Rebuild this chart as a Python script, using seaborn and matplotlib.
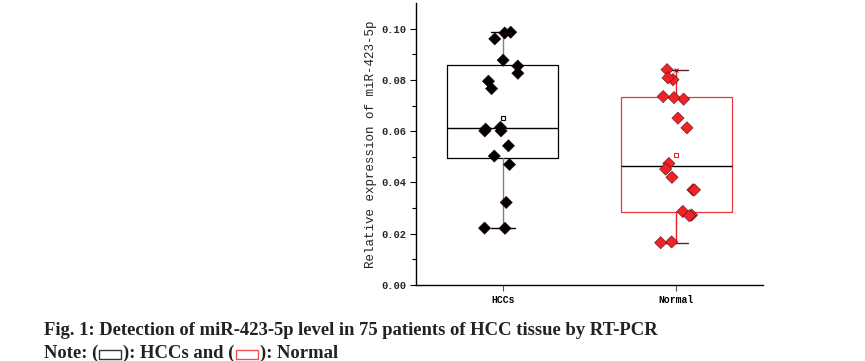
import matplotlib
matplotlib.use("Agg")
import matplotlib.pyplot as plt
from matplotlib.patches import Rectangle
import numpy as np
import pandas as pd
import seaborn as sns

groups = ["HCCs", "Normal"]
hcc_values = [0.0983, 0.0986, 0.0960, 0.0877, 0.0854, 0.0826, 0.0795, 0.0766,
              0.0608, 0.0615, 0.0601, 0.0601, 0.0543, 0.0503, 0.0470, 0.0322,
              0.0222, 0.0221]
normal_values = [0.0840, 0.0801, 0.0808, 0.0725, 0.0731, 0.0735, 0.0651, 0.0613,
                 0.0474, 0.0452, 0.0420, 0.0371, 0.0371, 0.0287, 0.0273, 0.0270,
                 0.0168, 0.0165]
y_ticks = [0.00, 0.02, 0.04, 0.06, 0.08, 0.10]
y_label = "Relative expression of miR-423-5p"
caption = "Fig. 1: Detection of miR-423-5p level in 75 patients of HCC tissue by RT-PCR"

df = pd.DataFrame({
    "group": ["HCCs"] * len(hcc_values) + ["Normal"] * len(normal_values),
    "value": hcc_values + normal_values,
})

sns.set_style("ticks")
plt.rcParams["font.family"] = ["Liberation Mono", "DejaVu Sans"]

W, H = 865, 361
fig = plt.figure(figsize=(W / 100, H / 100), dpi=100)
ax = fig.add_axes([416 / W, 1 - 285 / H, (763 - 416) / W, (285 - 3) / H])


def box_stats(vals, label):
    v = np.sort(np.asarray(vals))
    q1, med, q3 = np.percentile(v, [25, 50, 75], method="weibull")
    return [dict(label=label, whislo=v.min(), q1=q1, med=med, q3=q3,
                 whishi=v.max(), mean=v.mean(), fliers=[])]


styles = {
    "HCCs": dict(box="black", whisker="#808080", cap="black", mean="black"),
    "Normal": dict(box="#e8383d", whisker="#e8202a", cap="#6b1a1a", mean="#e8202a"),
}
for i, (g, vals) in enumerate(zip(groups, [hcc_values, normal_values])):
    s = styles[g]
    ax.bxp(box_stats(vals, g), positions=[i], widths=0.64, capwidths=0.14,
           showmeans=True, patch_artist=False,
           boxprops=dict(color=s["box"], linewidth=0.9),
           whiskerprops=dict(color=s["whisker"], linewidth=1.0),
           capprops=dict(color=s["cap"], linewidth=1.0),
           medianprops=dict(color="black", linewidth=1.0),
           meanprops=dict(marker="s", markersize=3, markerfacecolor="white",
                          markeredgecolor=s["mean"], markeredgewidth=0.8),
           manage_ticks=False, zorder=1)
    ax.plot([i], [max(vals)], marker="x", color=s["cap"], markersize=3,
            markeredgewidth=0.7, zorder=1)

np.random.seed(3)
sns.stripplot(data=df, x="group", y="value", hue="group", order=groups,
              palette={"HCCs": "black", "Normal": "#ee2228"}, marker="D",
              size=6.3, jitter=0.11, linewidth=0.3, edgecolor="#300000",
              legend=False, ax=ax, zorder=3)

ax.set_xlim(-0.5, 1.5)
ax.set_ylim(0, 0.11)
ax.set_yticks(y_ticks)
ax.set_yticks(np.arange(0.01, 0.11, 0.02), minor=True)
ax.set_yticklabels([f"{t:.2f}" for t in y_ticks], fontsize=7.5, fontweight="bold")
ax.set_xticks(range(len(groups)))
ax.set_xticklabels(groups, fontsize=7, fontweight="bold")
ax.set_xlabel("")
ax.set_ylabel(y_label, fontsize=9, labelpad=3, color="#222222")

for side in ["top", "right"]:
    ax.spines[side].set_visible(False)
for side in ["left", "bottom"]:
    ax.spines[side].set_linewidth(1.0)
    ax.spines[side].set_color("black")
ax.tick_params(axis="both", which="major", direction="out", length=4,
               width=0.8, color="black", pad=3)
ax.tick_params(axis="y", which="minor", direction="out", length=3, width=0.8,
               color="black")
ax.tick_params(axis="x", colors="#555555", labelcolor="black")

# caption below the chart
cap_font = dict(family=["Liberation Serif", "DejaVu Serif"], fontweight="bold",
                fontsize=13.4, color="#222222")
fig.text(44 / W, 1 - 335 / H, caption, va="baseline", ha="left", **cap_font)

base_y = 1 - 358 / H
pieces = ["Note: (", "): HCCs and (", "): Normal"]
box_colors = ["#333333", "#f05050"]
x_px = 44
fig.canvas.draw()
renderer = fig.canvas.get_renderer()
for k, piece in enumerate(pieces):
    t = fig.text(x_px / W, base_y, piece, va="baseline", ha="left", **cap_font)
    bb = t.get_window_extent(renderer=renderer)
    x_px = bb.x1
    if k < len(box_colors):
        fig.patches.append(Rectangle(((x_px + 1) / W, base_y - 1 / H), 22 / W, 9 / H,
                                     transform=fig.transFigure, fill=False,
                                     edgecolor=box_colors[k], linewidth=1.0))
        x_px += 25

fig.savefig("out.png", dpi=100)
